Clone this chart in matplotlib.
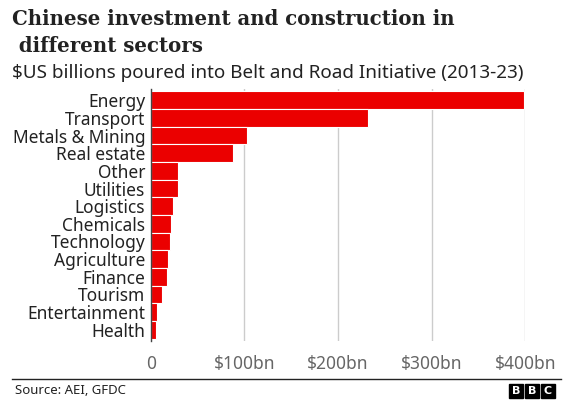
import matplotlib.pyplot as plt
from matplotlib.patches import Rectangle

sectors = ['Energy', 'Transport', 'Metals & Mining', 'Real estate', 'Other',
           'Utilities', 'Logistics', 'Chemicals', 'Technology', 'Agriculture',
           'Finance', 'Tourism', 'Entertainment', 'Health']
values = [399, 232, 103, 88, 29.5, 29, 23.5, 21.5, 21, 18.5, 17.5, 12.5, 6.5, 5.5]
ticks = [0, 100, 200, 300, 400]
tick_labels = ['0', '$100bn', '$200bn', '$300bn', '$400bn']

W, H = 573, 408
fig = plt.figure(figsize=(W / 100, H / 100), dpi=100)

# axes box in pixels: left 150.7, right 525.3, top 89, bottom 341
ax = fig.add_axes([150.7 / W, (H - 341) / H, (525.3 - 150.7) / W, (341 - 89) / H])
ypos = list(range(len(sectors)))
ax.barh(ypos, values, height=1.0, color='#eb0000', edgecolor='white', linewidth=0.8, zorder=3)
ax.set_xlim(0, 400)
ax.set_ylim(len(sectors) - 0.5 + 0.14, -0.5 - 0.14)

ax.set_yticks(ypos)
ax.set_yticklabels(sectors, fontsize=12.5, color='#222222', family='Noto Sans')
ax.set_xticks(ticks)
ax.set_xticklabels(tick_labels, fontsize=12.5, color='#666666', family='Noto Sans')
ax.tick_params(axis='both', length=0)
ax.tick_params(axis='y', pad=4)
ax.tick_params(axis='x', pad=10)
ax.grid(axis='x', color='#cccccc', linewidth=1, zorder=0)
for s in ['top', 'right', 'bottom']:
    ax.spines[s].set_visible(False)
ax.spines['left'].set_color('#444444')
ax.spines['left'].set_linewidth(1)
ax.spines['left'].set_zorder(4)

# title, two lines, baselines at 25px and 52px
fig.text(12 / W, 1 - 25 / H, 'Chinese investment and construction in',
         fontsize=14.2, family='DejaVu Serif', weight='bold', color='#222222',
         va='baseline', ha='left')
fig.text(12 / W, 1 - 52 / H, ' different sectors',
         fontsize=14.2, family='DejaVu Serif', weight='bold', color='#222222',
         va='baseline', ha='left')
fig.text(12 / W, 1 - 73 / H, '$US billions poured into Belt and Road Initiative (2013-23)',
         fontsize=13.6, family='Noto Sans', color='#222222', va='center', ha='left')

# footer
fig.add_artist(plt.Line2D([12 / W, 561 / W], [1 - 379 / H, 1 - 379 / H],
                          color='#222222', linewidth=1))
fig.text(15 / W, 1 - 391 / H, 'Source: AEI, GFDC', fontsize=9.5, family='Noto Sans',
         color='#222222', va='center', ha='left')
for i, ch in enumerate('BBC'):
    x0 = 509 + i * 16
    fig.add_artist(Rectangle((x0 / W, 1 - 398 / H), 14 / W, 14 / H,
                             transform=fig.transFigure, color='black'))
    fig.text((x0 + 7) / W, 1 - 391 / H, ch, fontsize=8, weight='bold', color='white',
             family='DejaVu Sans', ha='center', va='center')

fig.savefig('out.png', dpi=100, facecolor='white')
